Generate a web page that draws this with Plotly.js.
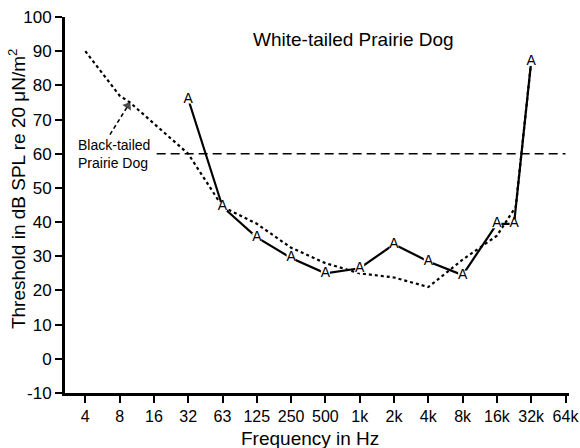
<!DOCTYPE html>
<html>
<head>
<meta charset="utf-8">
<script src="https://cdn.plot.ly/plotly-3.0.1.min.js"></script>
<style>html,body{margin:0;padding:0;background:#fff;}#chart{width:580px;height:448px;}</style>
</head>
<body>
<div id="chart"></div>
<script>
// Tick labels (octave positions 0..14)
const tickLabels = ['4','8','16','32','63','125','250','500','1k','2k','4k','8k','16k','32k','64k'];
const tickPositions = tickLabels.map((_, i) => i);
const yTicks = [-10, 0, 10, 20, 30, 40, 50, 60, 70, 80, 90, 100];
const yTickLabels = ['-10', '0', '10', '20', '30', '40', '50', '60', '70', '80', '90', '100'];

// White-tailed Prairie Dog (solid line, "A" symbols) — x in octaves above 4 Hz
const whiteOct = [3, 4, 5, 6, 7, 8, 9, 10, 11, 12, 12.5, 13];
const whiteDb  = [76, 44.5, 35.5, 29.5, 25, 26.5, 33.5, 28.5, 24.5, 39.5, 39.5, 87];

// Black-tailed Prairie Dog (dotted line)
const blackOct = [0, 1, 1.3, 3, 4, 5, 6, 7, 8, 9, 10, 11, 12, 12.55, 13];
const blackDb  = [90, 77, 75, 60, 44.5, 39.5, 32.5, 28, 25, 23.8, 21, 29, 36, 44.5, 87];

// 60 dB reference line
const refOct = [2.08, 14];
const refDb  = [60, 60];

// Label pointer (dashed arrow) from label to black-tailed curve
const pointerOct = [0.72, 1.24];
const pointerDb  = [65.6, 74.0];

const FONT = 'Liberation Sans, Arial, Helvetica, sans-serif';

const traces = [
  {x: refOct, y: refDb, mode: 'lines', line: {color: '#000', width: 1.6, dash: '9px,5px'}, hoverinfo: 'skip', showlegend: false},
  {x: blackOct, y: blackDb, mode: 'lines', name: 'Black-tailed Prairie Dog',
   line: {color: '#000', width: 2.2, dash: 'dot'}, showlegend: false},
  {x: pointerOct, y: pointerDb, mode: 'lines+markers', hoverinfo: 'skip', showlegend: false,
   line: {color: '#000', width: 1.6, dash: '4px,3px'},
   marker: {symbol: 'triangle-up', size: [0, 9], angle: 32, color: '#000', line: {width: 0}}},
  {x: whiteOct, y: whiteDb, mode: 'lines+markers+text', name: 'White-tailed Prairie Dog',
   line: {color: '#000', width: 2.2},
   marker: {symbol: 'square', size: 9, color: '#fff', line: {width: 0}},
   text: whiteOct.map(() => 'A'), textposition: 'middle center',
   textfont: {family: FONT, size: 14, color: '#000'}, showlegend: false}
];

const layout = {
  width: 580, height: 448,
  margin: {l: 65, r: 11, t: 17, b: 55},
  paper_bgcolor: '#fff', plot_bgcolor: '#fff',
  font: {family: FONT, color: '#000'},
  showlegend: false,
  xaxis: {
    range: [-0.592, 14.102], tickmode: 'array', tickvals: tickPositions, ticktext: tickLabels,
    showgrid: false, zeroline: false, showline: true, linecolor: '#000', linewidth: 3,
    ticks: 'outside', ticklen: 7, tickwidth: 2, tickcolor: '#000',
    tickfont: {family: FONT, size: 16, color: '#000'}
  },
  yaxis: {
    range: [-10, 100], tickmode: 'array', tickvals: yTicks, ticktext: yTickLabels,
    showgrid: false, zeroline: false, showline: true, linecolor: '#000', linewidth: 3,
    ticks: 'outside', ticklen: 7, tickwidth: 2, tickcolor: '#000',
    tickfont: {family: FONT, size: 17, color: '#000'}
  },
  annotations: [
    {text: 'White-tailed Prairie Dog', xref: 'paper', yref: 'paper', x: 0.573, y: 0.939,
     xanchor: 'center', yanchor: 'middle', showarrow: false, font: {family: FONT, size: 19, color: '#000'}},
    {text: 'Black-tailed<br>Prairie Dog', xref: 'x', yref: 'y', x: -0.27, y: 59.8,
     xanchor: 'left', yanchor: 'middle', align: 'left', showarrow: false,
     font: {family: FONT, size: 14, color: '#000'}},
    {text: 'Frequency in Hz', xref: 'paper', yref: 'paper', x: 0.487, y: -0.12,
     xanchor: 'center', yanchor: 'middle', showarrow: false, font: {family: FONT, size: 19, color: '#000'}},
    {text: 'Threshold in dB SPL re 20 μN/m<sup>2</sup>', xref: 'paper', yref: 'paper', x: -0.094, y: 0.544,
     xanchor: 'center', yanchor: 'middle', textangle: -90, showarrow: false,
     font: {family: FONT, size: 19, color: '#000'}}
  ]
};

Plotly.newPlot('chart', traces, layout, {displayModeBar: false, staticPlot: true});
</script>
</body>
</html>
